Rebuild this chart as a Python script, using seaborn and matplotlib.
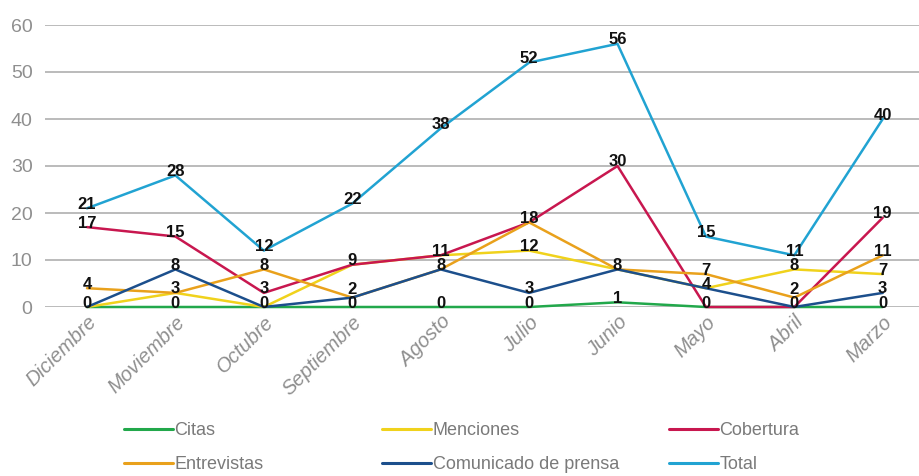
import matplotlib
matplotlib.use("Agg")
import matplotlib.pyplot as plt
import seaborn as sns
import pandas as pd
from matplotlib.lines import Line2D

meses = ["Diciembre", "Moviembre", "Octubre", "Septiembre", "Agosto",
         "Julio", "Junio", "Mayo", "Abril", "Marzo"]

citas = [0, 0, 0, 0, 0, 0, 1, 0, 0, 0]
menciones = [0, 3, 0, 9, 11, 12, 8, 4, 8, 7]
cobertura = [17, 15, 3, 9, 11, 18, 30, 0, 0, 19]
entrevistas = [4, 3, 8, 2, 8, 18, 8, 7, 2, 11]
comunicado = [0, 8, 0, 2, 8, 3, 8, 4, 0, 3]
total = [21, 28, 12, 22, 38, 52, 56, 15, 11, 40]

series = {
    "Citas": citas,
    "Menciones": menciones,
    "Cobertura": cobertura,
    "Entrevistas": entrevistas,
    "Comunicado de prensa": comunicado,
    "Total": total,
}
colores = {
    "Citas": "#22a84b",
    "Menciones": "#f0d21c",
    "Cobertura": "#c8174f",
    "Entrevistas": "#e9a11c",
    "Comunicado de prensa": "#1c4f8c",
    "Total": "#21a3d2",
}

rows = []
for nombre, vals in series.items():
    for i, v in enumerate(vals):
        rows.append({"mes": meses[i], "pos": i, "serie": nombre, "valor": v})
df = pd.DataFrame(rows)

sns.set_style("white")
plt.rcParams["font.family"] = ["Liberation Sans", "DejaVu Sans"]

fig = plt.figure(figsize=(9.19, 4.76), dpi=100)
ax = fig.add_axes([45 / 919, 1 - 307 / 476, 1 - 45 / 919, (307 - 25) / 476])

sns.lineplot(data=df, x="pos", y="valor", hue="serie", palette=colores,
             hue_order=list(series.keys()), linewidth=1.8, ax=ax,
             legend=False, zorder=3, clip_on=False)

# etiquetas de datos (un solo texto si varias series coinciden)
px_por_unidad = 282 / 60
for i in range(len(meses)):
    valores = sorted({vals[i] for vals in series.values()})
    ultimo = None
    for v in valores:
        y_px = v * px_por_unidad + 4
        if ultimo is not None and y_px - ultimo < 14:
            y_px = ultimo + 14
        ultimo = y_px
        off = (y_px - v * px_por_unidad) * 0.72
        ax.annotate(str(v), (i, v), xytext=(0, off), textcoords="offset points",
                    ha="center", va="center", fontsize=12, fontweight="bold",
                    color="#111111", zorder=5, annotation_clip=False)

ax.set_xlim(-0.475, 9.41)
ax.set_ylim(0, 60)
ax.set_yticks(range(0, 61, 10))
ax.grid(axis="y", color="#a8a8a8", linewidth=1.1)
ax.grid(axis="x", visible=False)
ax.set_axisbelow(True)
for s in ax.spines.values():
    s.set_visible(False)

ax.set_xticks(range(len(meses)))
ax.set_xticklabels(meses, rotation=45, ha="right", rotation_mode="anchor",
                   fontsize=14.5, color="#8f8f8f", style="italic")
ax.tick_params(axis="x", length=0, pad=4)
ax.tick_params(axis="y", length=0, pad=9, labelsize=14, labelcolor="#8f8f8f")
ax.set_xlabel("")
ax.set_ylabel("")

# leyenda en tres columnas
grupos = [["Citas", "Entrevistas"], ["Menciones", "Comunicado de prensa"],
          ["Cobertura", "Total"]]
xs = [124, 382, 669]
for g, x0 in zip(grupos, xs):
    handles = [Line2D([], [], color=colores[n], linewidth=2.2) for n in g]
    fig.legend(handles, g, loc="upper left", bbox_to_anchor=(x0 / 919, 1 - 422 / 476),
               frameon=False, handlelength=2.7, handletextpad=0.1,
               labelspacing=0.95, borderaxespad=0, borderpad=0,
               prop={"size": 13}, labelcolor="#7a7a7a")

fig.savefig("out.png", dpi=100)
